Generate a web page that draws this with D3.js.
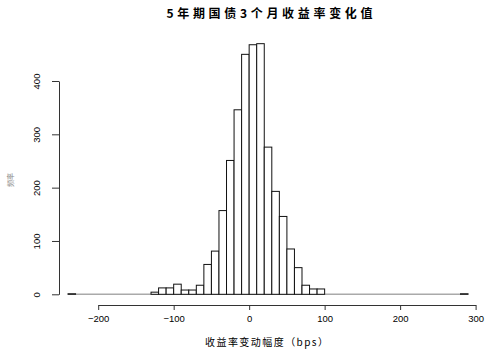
<!DOCTYPE html>
<html>
<head>
<meta charset="utf-8">
<script src="https://cdn.jsdelivr.net/npm/d3@7"></script>
<style>
  body { margin: 0; background: #fff; }
  text { font-family: "Liberation Sans", Arial, sans-serif; fill: #000; }
  .cjk { font-family: "Noto Sans CJK SC", sans-serif; }
</style>
</head>
<body>
<div id="wrapper"></div>
<script>
// bin edges (bps) and counts, bin width 10
const binStarts = [-240, -130, -120, -110, -100, -90, -80, -70, -60, -50, -40, -30, -20, -10,
                   0, 10, 20, 30, 40, 50, 60, 70, 80, 90, 280];
const counts = [1, 4, 12, 12, 19, 8, 8, 17, 56, 81, 157, 251, 346, 450,
                468, 470, 276, 193, 146, 85, 50, 17, 10, 10, 1];
const binWidth = 10;
const xTicks = [-200, -100, 0, 100, 200, 300];
const yTicks = [0, 100, 200, 300, 400];

const bins = binStarts.map((s, i) => ({x0: s, x1: s + binWidth, n: counts[i]}));

const width = 500, height = 354;

const svg = d3.select("#wrapper").append("svg")
    .attr("width", width)
    .attr("height", height);

const x = d3.scaleLinear().domain([-200, 300]).range([98.2, 475.6]);
const y = d3.scaleLinear().domain([0, 400]).range([294.3, 81]);

// title
svg.append("text")
    .attr("class", "cjk")
    .attr("x", 269.5).attr("y", 18)
    .attr("text-anchor", "middle")
    .attr("font-size", 12)
    .attr("font-weight", "bold")
    .attr("textLength", 206)
    .attr("lengthAdjust", "spacing")
    .text("5年期国债3个月收益率变化值");

// zero-height bins show as a grey baseline
svg.append("line")
    .attr("x1", x(-240)).attr("x2", x(290))
    .attr("y1", y(0)).attr("y2", y(0))
    .attr("stroke", "#aaa")
    .attr("stroke-width", 1.5);

svg.append("g")
    .selectAll("rect")
    .data(bins)
    .enter()
    .append("rect")
    .attr("x", d => x(d.x0))
    .attr("width", d => x(d.x1) - x(d.x0))
    .attr("y", d => y(d.n))
    .attr("height", d => Math.max(y(0) - y(d.n), 0.01))
    .attr("fill", "#fff")
    .attr("stroke", "#111")
    .attr("stroke-width", 1);

// x axis
const xAxis = svg.append("g")
    .attr("transform", "translate(0,305)")
    .call(d3.axisBottom(x).tickValues(xTicks).tickSize(5).tickPadding(5).tickSizeOuter(0));
xAxis.select(".domain").attr("stroke", "#333");
xAxis.selectAll(".tick line").attr("stroke", "#333");
xAxis.selectAll("text").attr("font-size", 9.5).attr("fill", "#111");

// y axis
const yAxis = svg.append("g")
    .attr("transform", "translate(59,0)")
    .call(d3.axisLeft(y).tickValues(yTicks).tickSize(7).tickPadding(0).tickSizeOuter(0));
yAxis.select(".domain").attr("stroke", "#333");
yAxis.selectAll(".tick line").attr("stroke", "#333");
yAxis.selectAll("text")
    .attr("font-size", 9.5)
    .attr("fill", "#111")
    .attr("text-anchor", "middle")
    .attr("x", 0).attr("dy", 0)
    .attr("transform", "translate(-19,0) rotate(-90)");

// axis titles
svg.append("text")
    .attr("class", "cjk")
    .attr("x", 266.5).attr("y", 346)
    .attr("text-anchor", "middle")
    .attr("font-size", 10)
    .attr("textLength", 123)
    .attr("lengthAdjust", "spacing")
    .text("收益率变动幅度（bps）");

svg.append("text")
    .attr("class", "cjk")
    .attr("transform", "translate(13,180) rotate(-90)")
    .attr("text-anchor", "middle")
    .attr("font-size", 7)
    .style("fill", "#888")
    .text("频率");
</script>
</body>
</html>
